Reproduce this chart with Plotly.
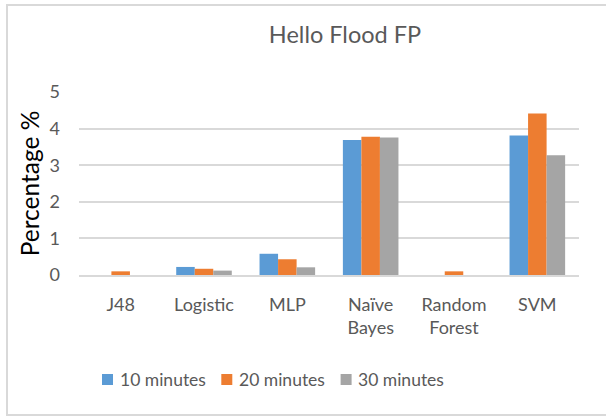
import plotly.graph_objects as go

# Hello Flood false-positive rate per classifier and capture window
categories = ["J48", "Logistic", "MLP", "Naïve<br>Bayes", "Random<br>Forest", "SVM"]
series_names = ["10 minutes", "20 minutes", "30 minutes"]
fp_10min = [0.0, 0.22, 0.58, 3.69, 0.0, 3.81]
fp_20min = [0.1, 0.17, 0.43, 3.78, 0.1, 4.41]
fp_30min = [0.0, 0.12, 0.21, 3.76, 0.0, 3.27]
y_ticks = [0, 1, 2, 3, 4, 5]

colors = ["#5B9BD5", "#ED7D31", "#A5A5A5"]
font_family = "Lato, 'Open Sans', sans-serif"

fig = go.Figure()
for name, vals, col in zip(series_names, [fp_10min, fp_20min, fp_30min], colors):
    fig.add_trace(go.Bar(x=categories, y=vals, name=name, showlegend=False,
                         marker=dict(color=col, line=dict(width=0))))

W, H = 606, 416
ml, mr, mt, mb = 79, 27, 92, 141
pw, ph = W - ml - mr, H - mt - mb

def px_x(x):
    return (x - ml) / pw

def px_y(y):
    return (H - mb - y) / ph

# Legend row below the axis: swatch + label per series
shapes = [dict(type="rect", xref="paper", yref="paper",
               x0=px_x(7), x1=px_x(640), y0=px_y(415), y1=px_y(5),
               line=dict(color="#D9D9D9", width=2), layer="below")]
annotations = []
leg_x0, leg_pitch, leg_y, sw = 102, 119.3, 379.5, 11
for i, (name, col) in enumerate(zip(series_names, colors)):
    x = leg_x0 + i * leg_pitch
    shapes.append(dict(type="rect", xref="paper", yref="paper",
                       x0=px_x(x), x1=px_x(x + sw),
                       y0=px_y(leg_y + sw / 2), y1=px_y(leg_y - sw / 2),
                       fillcolor=col, line=dict(width=0)))
    annotations.append(dict(text=name, xref="paper", yref="paper",
                            x=px_x(x + sw + 4.5), y=px_y(leg_y), xanchor="left",
                            yanchor="middle", showarrow=False,
                            font=dict(size=17.5, color="#595959", family=font_family)))

fig.update_layout(
    width=W, height=H,
    margin=dict(l=ml, r=mr, t=mt, b=mb, pad=0),
    paper_bgcolor="white", plot_bgcolor="white",
    barmode="group", bargap=0.333, bargroupgap=0,
    font=dict(family=font_family, color="#595959", size=18),
    showlegend=False,
    title=dict(text="Hello Flood FP", x=px_x(345), xref="paper", xanchor="center",
               y=1 - 35 / H, yanchor="middle",
               font=dict(size=23.5, color="#595959", family=font_family)),
    xaxis=dict(showgrid=False, showline=True, linecolor="#D9D9D9", linewidth=2,
               ticks="", tickfont=dict(size=18, color="#595959"), ticklabelstandoff=12),
    yaxis=dict(range=[0, 5], tickvals=y_ticks, showgrid=True, gridcolor="#D9D9D9",
               gridwidth=2, zeroline=False, showline=False, ticks="",
               tickfont=dict(size=18, color="#595959"), ticklabelstandoff=18,
               title=dict(text="Percentage %", font=dict(size=24.5, color="#000000"),
                          standoff=2)),
    shapes=shapes,
    annotations=annotations,
)

fig.write_html("out.html")
